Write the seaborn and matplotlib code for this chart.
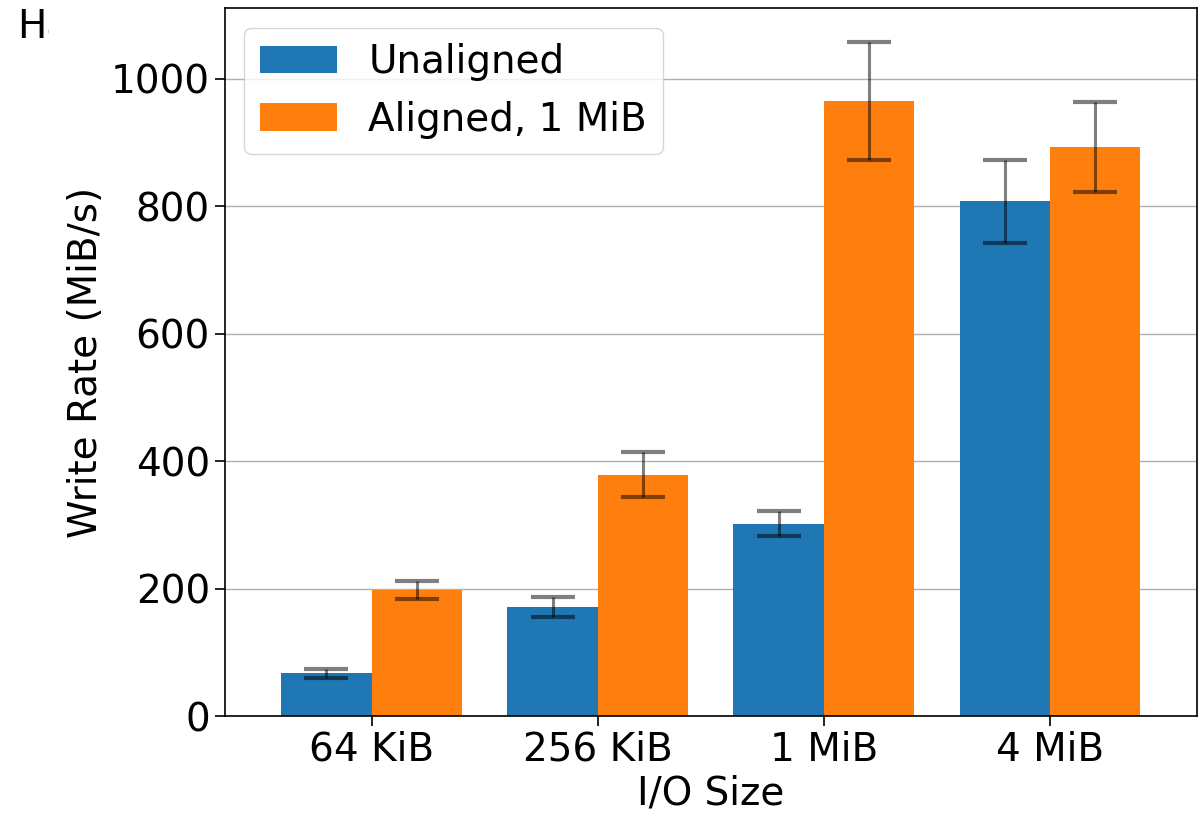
import matplotlib
matplotlib.use("Agg")
import matplotlib.pyplot as plt
from matplotlib.transforms import Bbox
import numpy as np
import pandas as pd
import seaborn as sns

# values
sizes = ["64 KiB", "256 KiB", "1 MiB", "4 MiB"]
unaligned = [67, 171, 302, 808]
unaligned_err = [7, 16, 19, 65]
aligned = [198, 379, 965, 893]
aligned_err = [14, 35, 93, 71]
series = ["Unaligned", "Aligned, 1 MiB"]
colors = ["#1f77b4", "#ff7f0e"]

plt.rcParams["font.family"] = ["DejaVu Sans"]
plt.rcParams["font.size"] = 28

df = pd.DataFrame({
    "size": sizes * 2,
    "rate": unaligned + aligned,
    "err": unaligned_err + aligned_err,
    "kind": [series[0]] * 4 + [series[1]] * 4,
})

fig = plt.figure(figsize=(12.01, 8.13), dpi=100)
ax = fig.add_axes([0.187, 0.1193, 0.8097, 0.8707])

sns.barplot(data=df, x="size", y="rate", hue="kind", order=sizes,
            hue_order=series, palette=colors, saturation=1,
            errorbar=None, width=0.8, ax=ax, zorder=2)

# error bars at the bar centres seaborn drew
bars = [p for p in ax.patches if p.get_height() > 0][:8]
for p, (_, row) in zip(bars, df.iterrows()):
    cx = p.get_x() + p.get_width() / 2
    ax.errorbar(cx, row["rate"], yerr=row["err"], fmt="none",
                ecolor="black", alpha=0.5, elinewidth=2.2,
                capsize=16, capthick=3, zorder=3)

ax.set_xlim(-0.65, 3.65)
ax.set_ylim(0, 1111)
ax.yaxis.grid(True, color="#b0b0b0", linewidth=1.0, zorder=0)
ax.set_axisbelow(True)
ax.set_xlabel("I/O Size")
ax.set_ylabel("Write Rate (MiB/s)")
ax.tick_params(axis="both", labelsize=28, length=7, width=1.2)
for s in ax.spines.values():
    s.set_linewidth(1.2)

ax.legend(loc="upper left", fontsize=28, handlelength=2.0,
          framealpha=0.8, title=None)

# title text that is cut off in the original
t = fig.text(0.0142, 0.954, "Hard", fontsize=28, va="baseline")
t.set_clip_box(Bbox.from_extents(0, 0, 49, 813))
t.set_clip_on(True)

fig.savefig("out.png", dpi=100)
